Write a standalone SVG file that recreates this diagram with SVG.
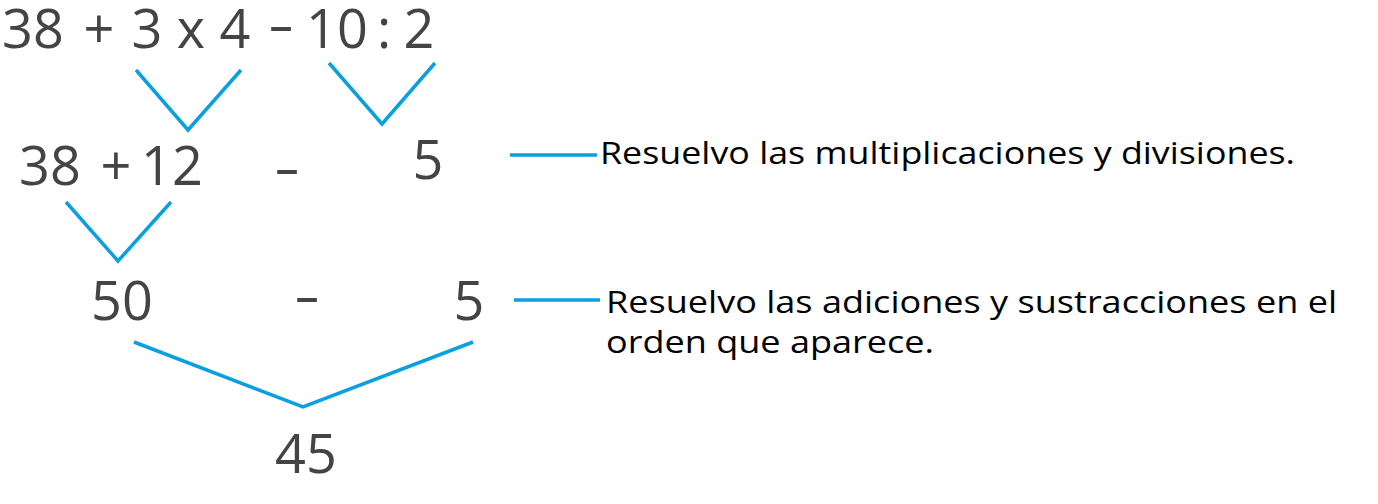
<svg xmlns="http://www.w3.org/2000/svg" width="1378" height="504" viewBox="0 0 1378 504">
<style>
.n{font-family:"Open Sans","Noto Sans",sans-serif;font-size:54px;fill:#444;text-anchor:middle}
.t{font-family:"Open Sans","Noto Sans",sans-serif;font-size:31px;fill:#000}
.c{fill:none;stroke:#0a9fe1;stroke-width:3.5;stroke-linejoin:miter}
</style>
<rect width="1378" height="504" fill="#fff"/>
<g id="row1">
<text class="n" x="33" y="48">38</text>
<text class="n" x="99" y="48">+</text>
<text class="n" x="147" y="48">3</text>
<text class="n" x="191" y="48">x</text>
<text class="n" x="235" y="48">4</text>
<text class="n" transform="translate(281,44) scale(1.5,1)">-</text>
<text class="n" x="337" y="48">10</text>
<text class="n" x="384" y="48">:</text>
<text class="n" x="419" y="48">2</text>
</g>
<g id="row2">
<text class="n" x="50" y="185">38</text>
<text class="n" x="116" y="185">+</text>
<text class="n" x="172" y="185">12</text>
<text class="n" transform="translate(287,187) scale(1.5,1)">-</text>
<text class="n" x="428" y="179">5</text>
</g>
<g id="row3">
<text class="n" x="122" y="320">50</text>
<text class="n" transform="translate(307,315) scale(1.5,1)">-</text>
<text class="n" x="469" y="320">5</text>
</g>
<g id="result">
<text class="n" x="306" y="473">45</text>
</g>
<g id="label1">
<text class="t" x="600" y="164" textLength="695" lengthAdjust="spacingAndGlyphs">Resuelvo las multiplicaciones y divisiones.</text>
</g>
<g id="label2">
<text class="t" x="606" y="313" textLength="731" lengthAdjust="spacingAndGlyphs">Resuelvo las adiciones y sustracciones en el</text>
<text class="t" x="606" y="353" textLength="328" lengthAdjust="spacingAndGlyphs">orden que aparece.</text>
</g>
<g id="connectors">
<polyline class="c" points="136,70 188,130 241,70"/>
<polyline class="c" points="329,63 382,124 435,63"/>
<polyline class="c" points="66,202 118,261 171,202"/>
<polyline class="c" points="134,342 303,407 473,342"/>
<line class="c" x1="510" y1="155" x2="597" y2="155"/>
<line class="c" x1="514" y1="300" x2="600" y2="300"/>
</g>
</svg>
